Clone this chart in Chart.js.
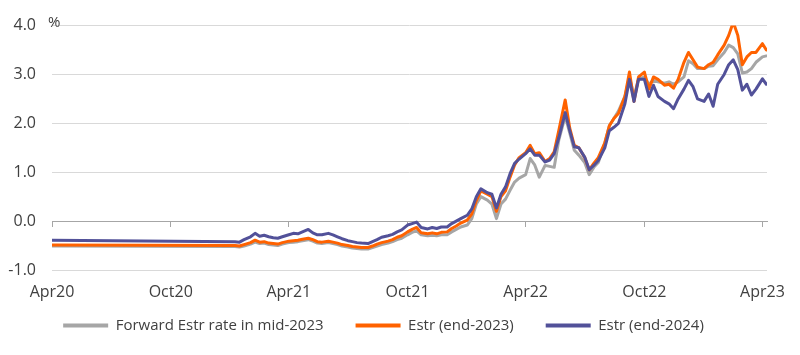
<!DOCTYPE html>
<html><head><meta charset="utf-8">
<script src="https://cdn.jsdelivr.net/npm/chart.js@4.4.0/dist/chart.umd.min.js"></script>
<style>html,body{margin:0;padding:0;background:#fff}#wrap{width:800px;height:355px}</style>
</head><body><div id="wrap"><canvas id="c"></canvas></div>
<script>
const dates = [
 '2020-04-01',
 '2021-01-08','2021-01-15','2021-01-22',
 '2021-02-01','2021-02-08','2021-02-15','2021-02-22',
 '2021-03-01','2021-03-08','2021-03-15','2021-03-22',
 '2021-04-01','2021-04-08','2021-04-15','2021-04-22',
 '2021-05-01','2021-05-08','2021-05-15','2021-05-22',
 '2021-06-01','2021-06-08','2021-06-15','2021-06-22',
 '2021-07-01','2021-07-08','2021-07-15','2021-07-22',
 '2021-08-01','2021-08-08','2021-08-15','2021-08-22',
 '2021-09-01','2021-09-08','2021-09-15','2021-09-22',
 '2021-10-01','2021-10-08','2021-10-15','2021-10-22',
 '2021-11-01','2021-11-08','2021-11-15','2021-11-22',
 '2021-12-01','2021-12-08','2021-12-15','2021-12-22',
 '2022-01-01','2022-01-08','2022-01-15','2022-01-22',
 '2022-02-01','2022-02-08','2022-02-15','2022-02-22',
 '2022-03-01','2022-03-08','2022-03-15','2022-03-22',
 '2022-04-01','2022-04-08','2022-04-15','2022-04-22',
 '2022-05-01','2022-05-08','2022-05-15','2022-05-22',
 '2022-06-01','2022-06-08','2022-06-15','2022-06-22',
 '2022-07-01','2022-07-08','2022-07-15','2022-07-22',
 '2022-08-01','2022-08-08','2022-08-15','2022-08-22',
 '2022-09-01','2022-09-08','2022-09-15','2022-09-22',
 '2022-10-01','2022-10-08','2022-10-15','2022-10-22',
 '2022-11-01','2022-11-08','2022-11-15','2022-11-22',
 '2022-12-01','2022-12-08','2022-12-15','2022-12-22',
 '2023-01-01','2023-01-08','2023-01-15','2023-01-22',
 '2023-02-01','2023-02-08','2023-02-15','2023-02-22',
 '2023-03-01','2023-03-08','2023-03-15','2023-03-22',
 '2023-04-01','2023-04-07'
];
const fwdMid2023 = [
 -0.51,
 -0.52,-0.53,-0.51,
 -0.47,-0.43,-0.46,-0.45,
 -0.48,-0.49,-0.50,-0.47,
 -0.44,-0.43,-0.42,-0.40,
 -0.38,-0.41,-0.45,-0.46,
 -0.44,-0.46,-0.48,-0.51,
 -0.53,-0.55,-0.56,-0.57,
 -0.57,-0.54,-0.51,-0.48,
 -0.45,-0.42,-0.38,-0.35,
 -0.28,-0.23,-0.20,-0.28,
 -0.30,-0.29,-0.30,-0.28,
 -0.28,-0.22,-0.17,-0.12,
 -0.08,0.05,0.35,0.50,
 0.43,0.35,0.05,0.35,
 0.45,0.63,0.80,0.88,
 0.95,1.28,1.15,0.90,
 1.14,1.12,1.10,1.65,
 2.15,1.80,1.45,1.35,
 1.20,0.95,1.10,1.20,
 1.60,1.95,2.10,2.25,
 2.55,2.95,2.55,2.90,
 2.95,2.80,2.88,2.85,
 2.82,2.85,2.80,2.85,
 2.95,3.28,3.22,3.12,
 3.12,3.17,3.18,3.30,
 3.45,3.60,3.55,3.42,
 3.03,3.05,3.12,3.25,
 3.36,3.38
];
const estrEnd2023 = [
 -0.49,
 -0.50,-0.51,-0.48,
 -0.44,-0.39,-0.43,-0.42,
 -0.45,-0.46,-0.47,-0.44,
 -0.41,-0.40,-0.39,-0.37,
 -0.35,-0.38,-0.42,-0.43,
 -0.41,-0.43,-0.45,-0.48,
 -0.50,-0.52,-0.53,-0.54,
 -0.54,-0.51,-0.47,-0.44,
 -0.41,-0.38,-0.33,-0.30,
 -0.22,-0.17,-0.13,-0.24,
 -0.26,-0.24,-0.26,-0.23,
 -0.22,-0.15,-0.10,-0.04,
 0.02,0.15,0.42,0.62,
 0.55,0.50,0.20,0.50,
 0.62,0.90,1.15,1.30,
 1.40,1.55,1.38,1.40,
 1.22,1.28,1.42,1.85,
 2.48,1.90,1.55,1.50,
 1.30,1.05,1.18,1.30,
 1.60,1.95,2.10,2.20,
 2.55,3.05,2.45,2.95,
 3.05,2.70,2.95,2.90,
 2.78,2.80,2.72,2.90,
 3.25,3.45,3.30,3.15,
 3.12,3.20,3.25,3.40,
 3.60,3.80,4.07,3.80,
 3.20,3.36,3.45,3.45,
 3.63,3.50
];
const estrEnd2024 = [
 -0.39,
 -0.42,-0.43,-0.38,
 -0.32,-0.25,-0.31,-0.29,
 -0.32,-0.34,-0.35,-0.32,
 -0.28,-0.25,-0.26,-0.22,
 -0.17,-0.24,-0.28,-0.28,
 -0.25,-0.28,-0.32,-0.36,
 -0.40,-0.42,-0.44,-0.45,
 -0.46,-0.42,-0.38,-0.33,
 -0.30,-0.27,-0.22,-0.18,
 -0.08,-0.05,-0.02,-0.13,
 -0.16,-0.13,-0.15,-0.12,
 -0.12,-0.05,0.00,0.05,
 0.12,0.25,0.50,0.66,
 0.58,0.55,0.27,0.55,
 0.70,0.97,1.18,1.27,
 1.38,1.48,1.35,1.35,
 1.21,1.25,1.38,1.70,
 2.22,1.85,1.52,1.50,
 1.31,1.05,1.14,1.24,
 1.50,1.85,1.92,2.00,
 2.40,2.90,2.45,2.90,
 2.90,2.55,2.78,2.55,
 2.45,2.40,2.30,2.50,
 2.70,2.88,2.75,2.50,
 2.45,2.60,2.35,2.80,
 3.00,3.20,3.30,3.10,
 2.68,2.80,2.58,2.70,
 2.91,2.80
];
const seriesNames = ['Forward Estr rate in mid-2023','Estr (end-2023)','Estr (end-2024)'];
const tickDates = ['2020-04-01','2020-10-01','2021-04-01','2021-10-01','2022-04-01','2022-10-01','2023-04-01'];
const tickLabels = ['Apr20','Oct20','Apr21','Oct21','Apr22','Oct22','Apr23'];
const yTicks = [-1,0,1,2,3,4];
const axisStart = '2020-04-01', axisEnd = '2023-04-08';

const dayNum = s => { const [y,m,d] = s.split('-').map(Number); const [y0,m0,d0] = axisStart.split('-').map(Number); return (Date.UTC(y,m-1,d) - Date.UTC(y0,m0-1,d0)) / 864e5; };
const tickValues = tickDates.map(dayNum);
const toPts = arr => arr.map((v,i) => ({x: dayNum(dates[i]), y: v}));
const FONT = "'Open Sans', 'Noto Sans', sans-serif";
const TXT = '#404040';

const pctPlugin = {
  id: 'pct',
  afterDraw(chart) {
    const {ctx, chartArea} = chart;
    ctx.save();
    ctx.font = "15px " + FONT;
    ctx.fillStyle = TXT;
    ctx.textAlign = 'left';
    ctx.textBaseline = 'alphabetic';
    ctx.fillText('%', chartArea.left - 4, chartArea.top + 1);
    ctx.restore();
  }
};

const setTicks = s => { s.ticks = tickValues.map(v => ({value: v})); };

new Chart(document.getElementById('c'), {
  type: 'line',
  data: {
    datasets: [
      {label: seriesNames[0], data: toPts(fwdMid2023), borderColor: '#a6a6a6', backgroundColor: '#a6a6a6', order: 2},
      {label: seriesNames[1], data: toPts(estrEnd2023), borderColor: '#ff6200', backgroundColor: '#ff6200', order: 1},
      {label: seriesNames[2], data: toPts(estrEnd2024), borderColor: '#525199', backgroundColor: '#525199', order: 0}
    ]
  },
  options: {
    responsive: true,
    maintainAspectRatio: false,
    animation: false,
    parsing: false,
    elements: {
      line: {borderWidth: 3, tension: 0, borderJoinStyle: 'round', borderCapStyle: 'round'},
      point: {radius: 0}
    },
    layout: {padding: {left: 0, right: 33, top: 25, bottom: 12}},
    scales: {
      x: {
        type: 'linear', position: {y: -1},
        min: 0, max: dayNum(axisEnd),
        afterBuildTicks: setTicks,
        ticks: {
          autoSkip: false, maxRotation: 0, padding: 13,
          color: TXT, font: {family: FONT, size: 16},
          callback: v => tickLabels[tickValues.indexOf(v)]
        },
        grid: {display: false, drawTicks: false},
        border: {display: false}
      },
      xs: {
        type: 'linear', position: 'bottom',
        min: 0, max: dayNum(axisEnd),
        afterFit: s => { s.height = 16; },
        ticks: {display: false},
        grid: {display: false, drawTicks: false},
        border: {display: false}
      },
      x0: {
        type: 'linear', position: {y: 0},
        min: 0, max: dayNum(axisEnd),
        afterBuildTicks: setTicks,
        ticks: {display: false},
        grid: {drawOnChartArea: false, drawTicks: true, tickLength: 5, color: '#a6a6a6', lineWidth: 1},
        border: {display: true, color: '#a6a6a6', width: 1}
      },
      y: {
        min: -1, max: 4,
        afterBuildTicks: s => { s.ticks = yTicks.map(v => ({value: v})); },
        afterFit: s => { s.width = 52; },
        ticks: {padding: 16, color: TXT, font: {family: FONT, size: 16}, callback: v => v.toFixed(1)},
        grid: {drawTicks: false, color: c => (c.tick && c.tick.value === 0) ? 'rgba(0,0,0,0)' : '#d9d9d9', lineWidth: 1},
        border: {display: false}
      }
    },
    plugins: {
      legend: {
        position: 'bottom',
        labels: {
          boxWidth: 45, boxHeight: 4, padding: 32,
          color: TXT, font: {family: FONT, size: 15},
          sort: (a, b) => a.datasetIndex - b.datasetIndex,
          generateLabels: chart => Chart.defaults.plugins.legend.labels.generateLabels(chart).map(it => Object.assign(it, {lineWidth: 0, fillStyle: it.strokeStyle}))
        }
      },
      tooltip: {enabled: false}
    }
  },
  plugins: [pctPlugin]
});
</script>
</body></html>
